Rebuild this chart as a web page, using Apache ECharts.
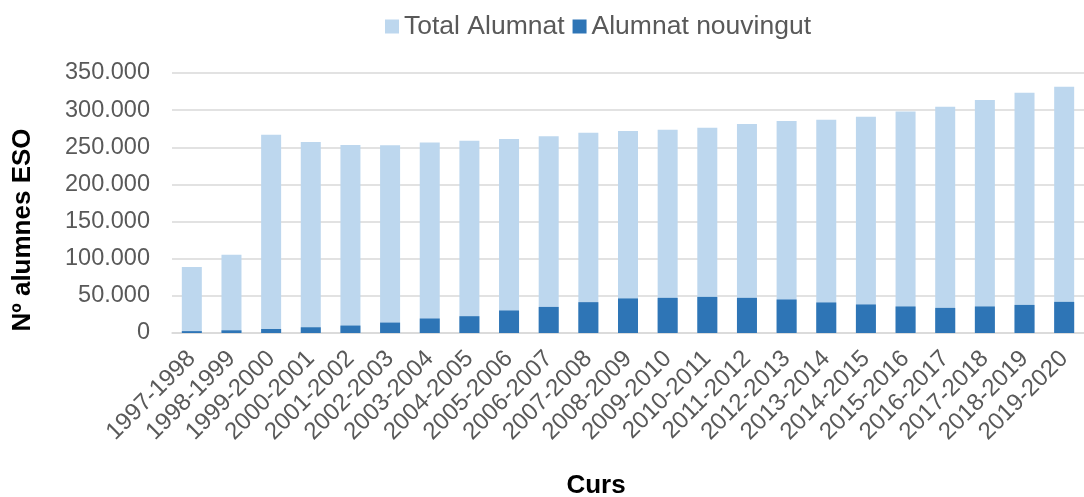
<!DOCTYPE html>
<html lang="ca">
<head>
    <meta charset="UTF-8">
    <title>Alumnat ESO</title>
    <script src="https://cdn.jsdelivr.net/npm/echarts@6/dist/echarts.min.js"></script>
    <style>
        body { margin: 0; background: #fff; }
    </style>
</head>
<body>
<div id="main" style="width: 1084px;height:497px;"></div>
<script>

    // cursos (eix X)
    var cursos = ['1997-1998','1998-1999','1999-2000','2000-2001','2001-2002','2002-2003',
        '2003-2004','2004-2005','2005-2006','2006-2007','2007-2008','2008-2009','2009-2010',
        '2010-2011','2011-2012','2012-2013','2013-2014','2014-2015','2015-2016','2016-2017',
        '2017-2018','2018-2019','2019-2020'];

    // total alumnat ESO
    var totalAlumnat = [88800,105400,266900,257100,253100,252900,256600,258900,261100,264700,
        269600,271900,273700,276400,281300,285400,287100,291200,298300,304600,313600,323500,331600];

    // alumnat nouvingut
    var nouvingut = [2500,3600,5400,7700,10000,14000,19500,22600,30300,35100,41500,46500,
        47300,48600,47300,45100,41100,38400,35700,33800,35700,37800,41900];

    var yMax = 350000;
    var yInterval = 50000;

    var font = 'Liberation Sans, Arial, sans-serif';
    var grey = '#595959';

    function milers(v) {
        return String(v).replace(/\B(?=(\d{3})+(?!\d))/g, '.');
    }

    var myChart = echarts.init(document.getElementById('main'));
    myChart.setOption({
        animation: false,
        textStyle: { fontFamily: font },
        legend: {
            top: 8,
            left: 380,
            itemWidth: 14,
            itemHeight: 14,
            itemGap: 8,
            icon: 'rect',
            textStyle: { fontSize: 26.5, color: grey, fontFamily: font },
            data: ['Total Alumnat', 'Alumnat nouvingut']
        },
        grid: {
            left: 172,
            right: 0,
            top: 73,
            bottom: 164
        },
        xAxis: {
            type: 'category',
            data: cursos,
            axisTick: { show: false },
            axisLine: { lineStyle: { color: '#D9D9D9', width: 1.5 } },
            axisLabel: {
                rotate: 45,
                interval: 0,
                margin: 22,
                fontSize: 24,
                color: grey,
                fontFamily: font
            }
        },
        yAxis: {
            type: 'value',
            min: 0,
            max: yMax,
            interval: yInterval,
            axisLine: { show: false },
            axisTick: { show: false },
            splitLine: { lineStyle: { color: '#D9D9D9', width: 1.5 } },
            axisLabel: {
                margin: 22,
                fontSize: 23.5,
                color: grey,
                fontFamily: font,
                formatter: milers
            }
        },
        graphic: [
            {
                type: 'text',
                x: 23,
                y: 230,
                rotation: Math.PI / 2,
                style: {
                    text: 'Nº alumnes ESO',
                    font: 'bold 26px ' + font,
                    fill: '#000',
                    textAlign: 'center',
                    textVerticalAlign: 'middle'
                }
            },
            {
                type: 'text',
                x: 596,
                y: 486,
                style: {
                    text: 'Curs',
                    font: 'bold 26px ' + font,
                    fill: '#000',
                    textAlign: 'center',
                    textVerticalAlign: 'middle'
                }
            }
        ],
        series: [
            {
                name: 'Total Alumnat',
                type: 'bar',
                barWidth: 20,
                barGap: '-100%',
                itemStyle: { color: '#BDD7EE' },
                data: totalAlumnat
            },
            {
                name: 'Alumnat nouvingut',
                type: 'bar',
                barWidth: 20,
                barGap: '-100%',
                itemStyle: { color: '#2E75B6' },
                data: nouvingut
            }
        ]
    });

</script>
</body>
</html>
